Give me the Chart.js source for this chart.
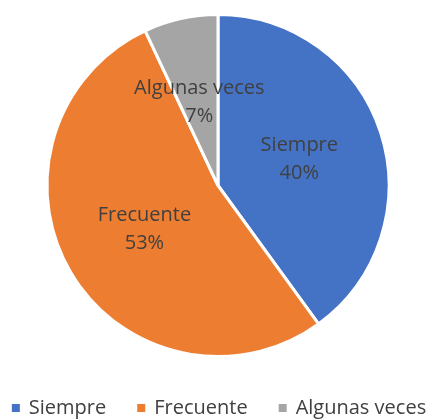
<!DOCTYPE html>
<html>
<head>
<meta charset="utf-8">
<script src="https://cdn.jsdelivr.net/npm/chart.js@4"></script>
<style>
  html, body { margin: 0; padding: 0; background: #fff; }
  #wrap { width: 438px; height: 420px; }
</style>
</head>
<body>
<div id="wrap"><canvas id="myChart" width="438" height="420"></canvas></div>
<script>
var categories = ["Siempre", "Frecuente", "Algunas veces"];
var values = [40, 53, 7];
var colors = ["#4472C4", "#ED7D31", "#A5A5A5"];

var fontFamily = "'Open Sans', 'Liberation Sans', sans-serif";
var textColor = "#404040";

// labels inside each slice, at half the radius
var sliceLabels = {
	id: "sliceLabels",
	afterDatasetsDraw: function(chart) {
		var ctx = chart.ctx,
			meta = chart.getDatasetMeta(0),
			total = values.reduce(function(a, b) { return a + b; }, 0);
		ctx.save();
		ctx.font = "20px " + fontFamily;
		ctx.fillStyle = textColor;
		ctx.textAlign = "center";
		ctx.textBaseline = "middle";
		meta.data.forEach(function(arc, i) {
			var mid = (arc.startAngle + arc.endAngle) / 2,
				r = arc.outerRadius * 0.5,
				x = arc.x + Math.cos(mid) * r,
				y = arc.y + Math.sin(mid) * r,
				pct = Math.round(values[i] / total * 100) + "%";
			ctx.fillText(categories[i], x, y - 14);
			ctx.fillText(pct, x, y + 14);
		});
		ctx.restore();
	}
};

// one-line legend under the pie, centred like the original
var bottomLegend = {
	id: "bottomLegend",
	afterDraw: function(chart) {
		var ctx = chart.ctx,
			box = 8, boxGap = 9, itemGap = 31, y = 408;
		ctx.save();
		ctx.font = "20px " + fontFamily;
		ctx.textBaseline = "middle";
		var widths = categories.map(function(c) { return ctx.measureText(c).width; });
		var total = widths.reduce(function(a, b) { return a + b; }, 0) +
			categories.length * (box + boxGap) + (categories.length - 1) * itemGap;
		var x = (chart.width - total) / 2;
		categories.forEach(function(c, i) {
			ctx.fillStyle = colors[i];
			ctx.fillRect(x, y - box / 2, box, box);
			x += box + boxGap;
			ctx.fillStyle = textColor;
			ctx.fillText(c, x, y);
			x += widths[i] + itemGap;
		});
		ctx.restore();
	}
};

var ctx = document.getElementById("myChart").getContext("2d");
var myChart = new Chart(ctx, {
	type: "pie",
	data: {
		labels: categories,
		datasets: [{
			data: values,
			backgroundColor: colors,
			borderColor: "#ffffff",
			borderWidth: 3
		}]
	},
	options: {
		responsive: false,
		animation: false,
		layout: { padding: { top: 13, bottom: 62, left: 0, right: 2 } },
		plugins: {
			tooltip: { enabled: false },
			legend: { display: false }
		}
	},
	plugins: [sliceLabels, bottomLegend]
});
</script>
</body>
</html>
